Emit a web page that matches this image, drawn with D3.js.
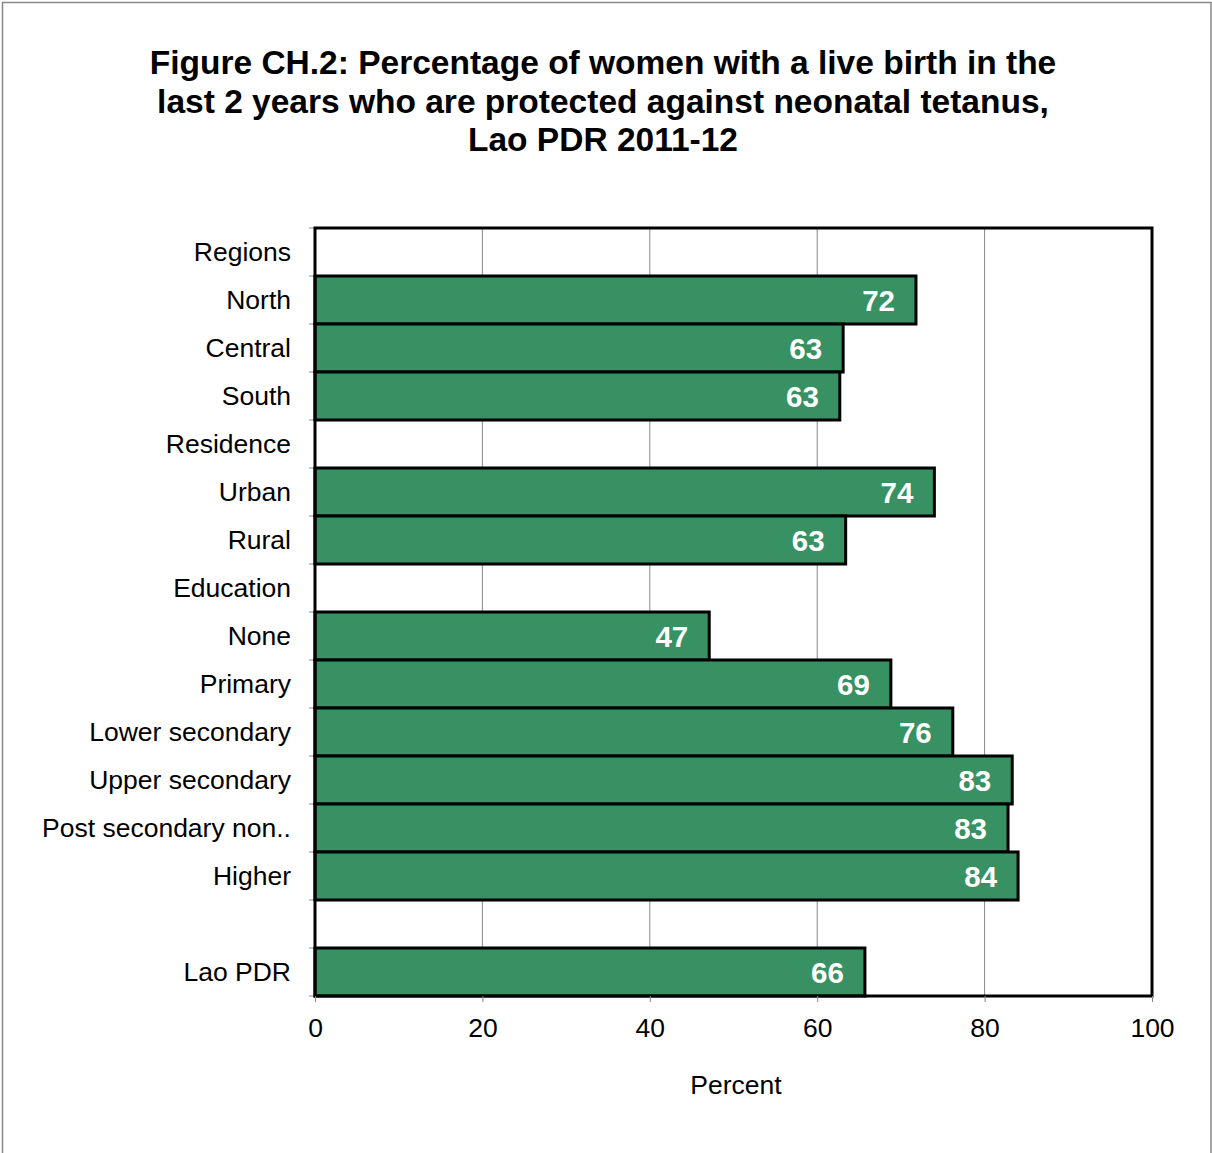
<!DOCTYPE html>
<html><head><meta charset="utf-8">
<script src="https://cdn.jsdelivr.net/npm/d3@7"></script>
<style>body{margin:0;background:#fff;}svg{display:block;font-family:"Liberation Sans",Arial,sans-serif;}</style>
</head><body>
<script>
const categories = ["Regions","North","Central","South","Residence","Urban","Rural","Education","None","Primary","Lower secondary","Upper secondary","Post secondary non..","Higher","","Lao PDR"];
const values = [null,71.8,63.1,62.7,null,74.0,63.4,null,47.1,68.8,76.2,83.3,82.8,84.0,null,65.7];
const valueLabels = ["","72","63","63","","74","63","","47","69","76","83","83","84","","66"];
const xTicks = [0,20,40,60,80,100];
const titleLines = ["Figure CH.2: Percentage of women with a live birth in the","last 2 years who are protected against neonatal tetanus,","Lao PDR 2011-12"];
const xTitle = "Percent";

const W=1212,H=1153;
const svg=d3.select("body").append("svg").attr("width",W).attr("height",H);
svg.append("rect").attr("x",2.5).attr("y",2.5).attr("width",1208.5).attr("height",1160).attr("fill","none").attr("stroke","#888").attr("stroke-width",1.5);

const L=315,R=1152,T=228,B=996;
const x=d3.scaleLinear().domain([0,100]).range([L,R]);
const y=d3.scaleBand().domain(d3.range(categories.length)).range([T,B]).padding(0);

svg.selectAll(".title").data(titleLines).enter().append("text")
 .attr("x",603).attr("y",(d,i)=>74+i*38.5).attr("text-anchor","middle")
 .attr("font-size",33.5).attr("font-weight","bold").text(d=>d);

// gridlines
svg.append("g").selectAll("line").data(xTicks.filter(t=>t>0&&t<100)).enter().append("line")
 .attr("x1",d=>x(d)).attr("x2",d=>x(d)).attr("y1",T).attr("y2",B).attr("stroke","#888").attr("stroke-width",1);

// left tick marks at band boundaries
svg.append("g").selectAll("line").data(d3.range(categories.length+1)).enter().append("line")
 .attr("x1",L-6).attr("x2",L).attr("y1",i=>T+i*y.bandwidth()).attr("y2",i=>T+i*y.bandwidth()).attr("stroke","#888");

// bars
const data=categories.map((c,i)=>({i,c,v:values[i],lab:valueLabels[i]})).filter(d=>d.v!=null);
svg.append("g").selectAll("rect").data(data).enter().append("rect")
 .attr("x",x(0)).attr("y",d=>y(d.i)).attr("width",d=>x(d.v)-x(0)).attr("height",y.bandwidth())
 .attr("fill","#379163").attr("stroke","#000").attr("stroke-width",3);

svg.append("g").selectAll("text").data(data).enter().append("text")
 .attr("x",d=>x(d.v)-21).attr("y",d=>y(d.i)+y.bandwidth()/2+10.5).attr("text-anchor","end")
 .attr("fill","#fff").attr("font-weight","bold").attr("font-size",29.5).text(d=>d.lab);

// frame
svg.append("rect").attr("x",L).attr("y",T).attr("width",R-L).attr("height",B-T).attr("fill","none").attr("stroke","#000").attr("stroke-width",3);

// category labels
svg.append("g").selectAll("text").data(categories).enter().append("text")
 .attr("x",291).attr("y",(d,i)=>y(i)+y.bandwidth()/2+9).attr("text-anchor","end")
 .attr("font-size",26.5).attr("fill","#000").text(d=>d);

// x axis
const xa=d3.axisBottom(x).tickValues(xTicks).tickSize(6).tickPadding(16).tickFormat(d3.format("d"));
const g=svg.append("g").attr("transform",`translate(0,${B})`).call(xa);
g.select(".domain").remove();
g.selectAll(".tick line").attr("stroke","#888");
g.selectAll(".tick text").attr("font-size",26.5).attr("fill","#000").attr("font-family","Liberation Sans, Arial, sans-serif");

svg.append("text").attr("x",736).attr("y",1094).attr("text-anchor","middle").attr("font-size",26.5).text(xTitle);
</script>
</body></html>
